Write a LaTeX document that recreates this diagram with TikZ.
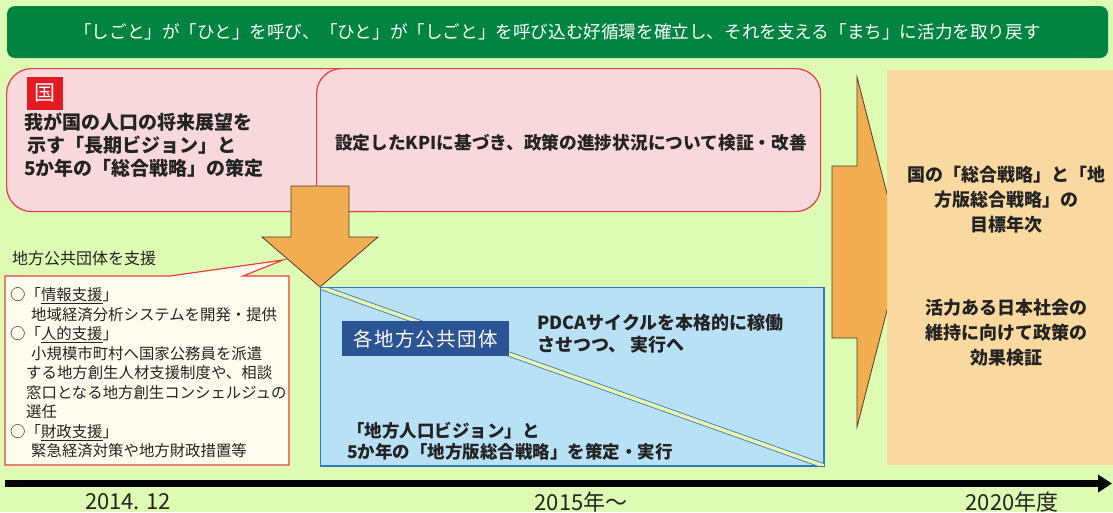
\documentclass[tikz,border=0pt]{standalone}
\usepackage{fontspec}
\setmainfont{Noto Sans CJK JP}
\newfontfamily\spacedfont[LetterSpace=7]{Noto Sans CJK JP}
\usetikzlibrary{arrows.meta}
\definecolor{bg}{RGB}{221,251,178}
\definecolor{titlegreen}{RGB}{0,132,64}
\definecolor{pinkfill}{RGB}{249,216,219}
\definecolor{pinkline}{RGB}{232,60,70}
\definecolor{kuni}{RGB}{228,26,34}
\definecolor{orangefill}{RGB}{242,173,80}
\definecolor{orangeline}{RGB}{80,60,40}
\definecolor{creamfill}{RGB}{255,253,238}
\definecolor{bluefill}{RGB}{184,225,245}
\definecolor{blueline}{RGB}{50,120,200}
\definecolor{stripe}{RGB}{236,244,170}
\definecolor{navy}{RGB}{43,84,148}
\definecolor{beige}{RGB}{250,217,160}
\definecolor{txt}{RGB}{35,35,35}
\newcommand{\fsz}[2]{\fontsize{#1}{#2}\selectfont}
\begin{document}
\begin{tikzpicture}[x=1pt,y=-1pt,
  pinkbox/.style={draw=pinkline, line width=1.2pt, fill=pinkfill, rounded corners=25pt, anchor=north west, inner sep=0pt},
  blockarrow/.style={draw=orangeline, line width=0.8pt, fill=orangefill},
  boldtext/.style={text=txt, font=\bfseries, align=left, inner sep=0pt},
  plaintext/.style={text=txt, align=left, inner sep=0pt},
  ]
\fill[bg] (0,0) rectangle (1113,512);
\useasboundingbox (0,0) rectangle (1113,512);

% title
\node[fill=titlegreen, rounded corners=8pt, minimum width=1101pt, minimum height=52pt, inner sep=0pt,
      text=white, font=\fsz{17.6}{20}] (title) at (557.5,32)
  {「しごと」が「ひと」を呼び、「ひと」が「しごと」を呼び込む好循環を確立し、それを支える「まち」に活力を取り戻す};

% national boxes
\node[pinkbox, minimum width=394pt, minimum height=143pt] (natl) at (6,68) {};
\node[pinkbox, minimum width=504pt, minimum height=143pt] (kpi) at (316,68) {};
\node[fill=kuni, text=white, minimum width=36pt, minimum height=33pt, inner sep=0pt, font=\fsz{21}{21}] (kuni) at (45,93) {国};
\node[boldtext, anchor=west, font=\bfseries\fsz{19}{23}] (natltext) at (24,145.5)
  {我が国の人口の将来展望を\\\hspace*{3pt}示す「長期ビジョン」と\\5か年の「総合戦略」の策定};
\node[boldtext, font=\bfseries\fsz{17.7}{20}] (kpitext) at (571,143)
  {設定したKPIに基づき、政策の進捗状況について検証・改善};

% down arrow
\draw[blockarrow] (291,186) -- (349,186) -- (349,237) -- (378,237) -- (320,287) -- (262,237) -- (291,237) -- cycle;

% support callout
\node[plaintext, anchor=west, font=\fsz{16}{18}] (supporthead) at (12,258) {地方公共団体を支援};
\draw[draw=pinkline, line width=1.2pt, fill=creamfill]
  (5,276) -- (170,276) -- (283,260) -- (243,276) -- (289,276) -- (289,465) -- (5,465) -- cycle;
\node[plaintext, anchor=west, font=\fsz{15.4}{19.5}] (supporttext) at (10,373)
  {○「\underline{情報支援}」\\
   \hspace*{21pt}地域経済分析システムを開発・提供\\
   ○「\underline{人的支援}」\\
   \hspace*{21pt}小規模市町村へ国家公務員を派遣\\
   \hspace*{16pt}する地方創生人材支援制度や、相談\\
   \hspace*{16pt}窓口となる地方創生コンシェルジュの\\
   \hspace*{16pt}選任\\
   ○「\underline{財政支援}」\\
   \hspace*{21pt}緊急経済対策や地方財政措置等};

% local governments box
\node[draw=blueline, line width=1pt, fill=bluefill, anchor=north west, minimum width=503pt, minimum height=178pt, inner sep=0pt] (local) at (320,287) {};
\begin{scope}
  \clip (local.north west) rectangle (local.south east);
  \draw[blueline, line width=0.8pt, double=stripe, double distance=3.5pt] (local.north west) -- (local.south east);
\end{scope}
\draw[blueline, line width=1pt] (local.north west) rectangle (local.south east);
\node[fill=navy, text=white, minimum width=167pt, minimum height=35pt, inner sep=0pt, anchor=north west,
      font=\spacedfont\fsz{19.5}{20}] (lg) at (342,321) {各地方公共団体};
\node[boldtext, anchor=west, font=\bfseries\fsz{18}{22}] (pdca) at (537,334)
  {PDCAサイクルを本格的に稼働\\させつつ、 実行へ};
\node[boldtext, anchor=west, font=\bfseries\fsz{17.5}{21}] (localplan) at (347,441.5)
  {「地方人口ビジョン」と\\5か年の「地方版総合戦略」を策定・実行};

% right arrow
\draw[blockarrow] (832,166) -- (857,166) -- (857,77) -- (902,252) -- (857,427) -- (857,338) -- (832,338) -- cycle;

% goal box
\node[fill=beige, anchor=north west, minimum width=226pt, minimum height=395pt, inner sep=0pt] (goal) at (887,70) {};
\node[boldtext, align=center, font=\bfseries\fsz{18}{25}] (goal1) at (1006,200)
  {国の「総合戦略」と「地\\方版総合戦略」の\\目標年次};
\node[boldtext, align=center, font=\bfseries\fsz{18}{25}] (goal2) at (1006,333)
  {活力ある日本社会の\\維持に向けて政策の\\効果検証};

% timeline
\coordinate (tstart) at (5,483.5);
\coordinate (tend) at (1112,483.5);
\draw[black, line width=7pt, -{Triangle[length=14pt, width=17pt]}] (tstart) -- (tend);
\node[plaintext, font=\fsz{22}{22}] (t1) at (128,502) {2014. 12};
\node[plaintext, font=\fsz{22}{22}] (t2) at (581,502) {2015年～};
\node[plaintext, font=\fsz{22}{22}] (t3) at (1012,502) {2020年度};
\end{tikzpicture}
\end{document}
